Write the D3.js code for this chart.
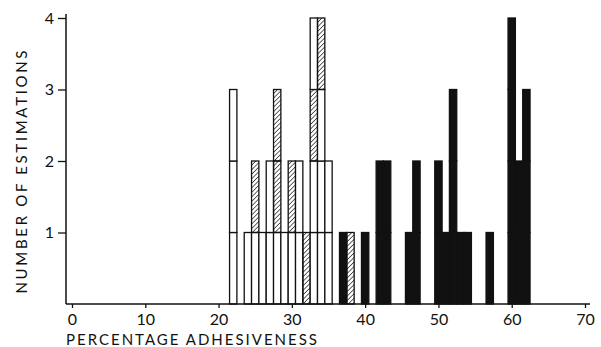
<!DOCTYPE html>
<html>
<head>
<meta charset="utf-8">
<script src="https://cdn.jsdelivr.net/npm/d3@7"></script>
<style>
  body { margin: 0; background: #fff; }
  svg { display: block; }
  text { font-family: Lato, "DejaVu Sans", sans-serif; fill: #111; }
</style>
</head>
<body>
<svg id="chart" width="601" height="347"></svg>
<script>
// percentage adhesiveness (1% bins), one entry per occupied bin
const bins = [22, 24, 25, 26, 27, 28, 29, 30, 31, 32, 33, 34, 35,
  37, 38, 40, 42, 43, 46, 47, 50, 51, 52, 53, 54, 57, 60, 61, 62];
// blocks stacked in each bin, bottom to top: O = open, H = hatched, B = black
const stacks = ["OOO", "O", "OH", "O", "OO", "OHH", "O", "OH", "OO", "H", "OOHO", "OOOH", "OO",
  "B", "H", "B", "BB", "BB", "B", "BB", "BB", "B", "BBB", "B", "B", "B", "BBBB", "BB", "BBB"];
const xTicks = [0, 10, 20, 30, 40, 50, 60, 70];
const yTicks = [1, 2, 3, 4];

const svg = d3.select("#chart");
const width = 601;
const height = 347;

const x = d3.scaleLinear().domain([0, 70]).range([72, 585]);
const y = d3.scaleLinear().domain([0, 4]).range([304, 18]);

// hatching for the shaded blocks
const defs = svg.append("defs");
defs.append("pattern")
  .attr("id", "hatch")
  .attr("patternUnits", "userSpaceOnUse")
  .attr("width", 3.2)
  .attr("height", 3.2)
  .attr("patternTransform", "rotate(45)")
  .append("line")
  .attr("x1", 0).attr("y1", 0)
  .attr("x2", 0).attr("y2", 3.2)
  .attr("stroke", "#111")
  .attr("stroke-width", 1.3);

// flatten to one record per block
const blocks = [];
bins.forEach((b, i) => {
  stacks[i].split("").forEach((t, level) => {
    blocks.push({ bin: b, level: level, type: t });
  });
});

const fills = { O: "#fff", H: "url(#hatch)", B: "#111" };

svg.append("g")
  .selectAll("rect")
  .data(blocks)
  .enter()
  .append("rect")
  .attr("x", d => x(d.bin - 0.5))
  .attr("width", d => x(d.bin + 0.5) - x(d.bin - 0.5))
  .attr("y", d => y(d.level + 1))
  .attr("height", d => y(d.level) - y(d.level + 1))
  .attr("fill", d => fills[d.type])
  .attr("stroke", "#111")
  .attr("stroke-width", 1.3);

// y axis
const yAxis = svg.append("g")
  .attr("transform", "translate(66,0)")
  .call(d3.axisLeft(y).tickValues(yTicks).tickSize(8).tickPadding(4).tickFormat(d3.format("d")));
yAxis.select(".domain").remove();
yAxis.selectAll("line").attr("stroke", "#111").attr("stroke-width", 1.3);
yAxis.selectAll("text").style("font-size", "16px");
svg.append("line")
  .attr("x1", 66).attr("x2", 66)
  .attr("y1", 14).attr("y2", y(0))
  .attr("stroke", "#111").attr("stroke-width", 1.5);

// x axis
const xAxis = svg.append("g")
  .attr("transform", `translate(0,${y(0)})`)
  .call(d3.axisBottom(x).tickValues(xTicks).tickSize(4).tickPadding(6).tickFormat(d3.format("d")));
xAxis.select(".domain").remove();
xAxis.selectAll("line").attr("stroke", "#111").attr("stroke-width", 1.3);
xAxis.selectAll("text").style("font-size", "16px");
svg.append("line")
  .attr("x1", 66).attr("x2", 590)
  .attr("y1", y(0)).attr("y2", y(0))
  .attr("stroke", "#111").attr("stroke-width", 1.5);

// axis titles
svg.append("text")
  .attr("x", 66)
  .attr("y", 345)
  .attr("textLength", 251)
  .attr("lengthAdjust", "spacing")
  .style("font-size", "15px")
  .text("PERCENTAGE ADHESIVENESS");

svg.append("text")
  .attr("transform", "translate(27,172) rotate(-90)")
  .attr("text-anchor", "middle")
  .attr("textLength", 243)
  .attr("lengthAdjust", "spacing")
  .style("font-size", "15px")
  .text("NUMBER OF ESTIMATIONS");
</script>
</body>
</html>
